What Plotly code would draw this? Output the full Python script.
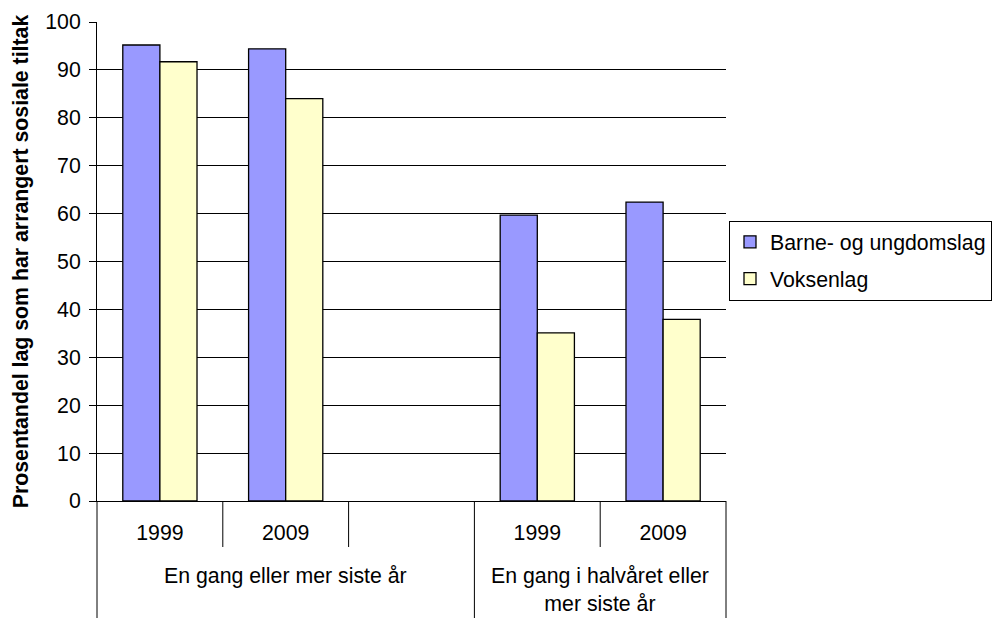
import plotly.graph_objects as go

# ---- data ----
group_labels = ["En gang eller mer siste år", "En gang i halvåret eller<br>mer siste år"]
slot_group = [0, 0, 0, 1, 1]
slot_labels = ["1999", "2009", "", "1999", "2009"]
series_names = ["Barne- og ungdomslag", "Voksenlag"]
barne = [95.2, 94.4, None, 59.7, 62.4]
voksen = [91.7, 84.0, None, 35.1, 37.9]
y_title = "Prosentandel lag som har arrangert sosiale tiltak"

FONT = "Liberation Sans, Arial, sans-serif"
FS = 21.3
W, H = 992, 618

keys = [f"{slot_labels[i]}|{slot_group[i]}|{i}" for i in range(len(slot_labels))]
n = len(keys)

fig = go.Figure()
fig.add_trace(go.Bar(x=keys, y=barne, name=series_names[0], legendgroup="a",
                     marker=dict(color="#9999FF", line=dict(color="black", width=1.3))))
fig.add_trace(go.Bar(x=keys, y=voksen, name=series_names[1], legendgroup="b",
                     marker=dict(color="#FFFFCC", line=dict(color="black", width=1.3))))

shapes = []
# boundaries between slots: short tick within a group, long divider between groups/edges
for b in range(n + 1):
    xp = b / n
    if b == 0 or b == n or slot_group[b - 1] != slot_group[b]:
        y1 = -117 / 479
    else:
        y1 = -46 / 479
    shapes.append(dict(type="line", xref="paper", yref="paper", x0=xp, x1=xp, y0=0, y1=y1,
                       line=dict(color="black", width=1)))

annotations = []
for g, lab in enumerate(group_labels):
    idx = [i for i in range(n) if slot_group[i] == g]
    xc = (min(idx) + max(idx) + 1) / 2 / n
    annotations.append(dict(text=lab, xref="paper", yref="paper", x=xc, y=-61 / 479,
                            xanchor="center", yanchor="top", showarrow=False,
                            font=dict(family=FONT, size=FS, color="black")))

fig.update_layout(
    width=W, height=H,
    margin=dict(l=97, r=266, t=22, b=117, autoexpand=False),
    paper_bgcolor="white", plot_bgcolor="white",
    font=dict(family=FONT, size=FS, color="black"),
    barmode="group", bargap=0.41, bargroupgap=0,
    shapes=shapes, annotations=annotations,
    legend=dict(xref="container", yref="container", x=729 / W, xanchor="left",
                y=1 - 260.5 / H, yanchor="middle",
                bordercolor="black", borderwidth=1, bgcolor="white",
                font=dict(family=FONT, size=FS, color="black"),
                tracegroupgap=6),
    xaxis=dict(type="category", categoryorder="array", categoryarray=keys,
               tickvals=keys, ticktext=slot_labels, ticks="", showline=True,
               linecolor="black", linewidth=1, showgrid=False, zeroline=False,
               tickfont=dict(family=FONT, size=FS, color="black"),
               ticklabelstandoff=12),
    yaxis=dict(range=[0, 100], dtick=10, showgrid=True, gridcolor="black", gridwidth=1,
               ticks="outside", ticklen=7, tickcolor="black", showline=True,
               linecolor="black", linewidth=1, zeroline=False,
               tickfont=dict(family=FONT, size=FS, color="black"),
               ticklabelstandoff=4,
               title=dict(text="<b>" + y_title + "</b>", standoff=10,
                          font=dict(family=FONT, size=FS, color="black"))),
)

fig.write_html("out.html", config={"displayModeBar": False},
               post_script="document.body.style.margin='0px';")
